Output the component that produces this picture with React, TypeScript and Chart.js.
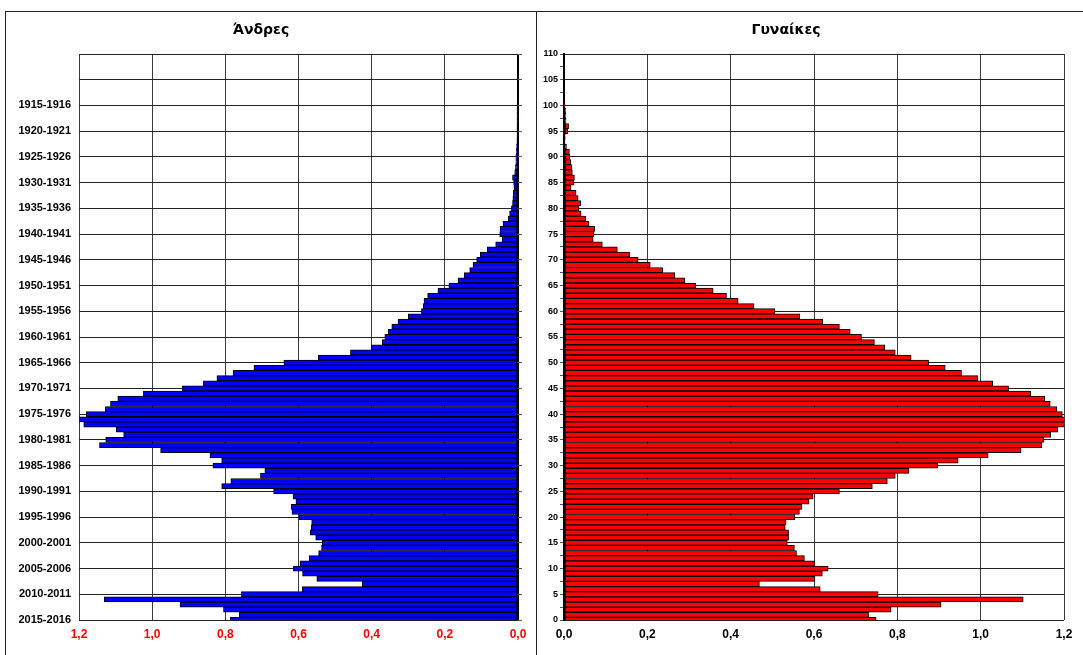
import React, { useEffect, useRef } from "react";
import { Chart, registerables } from "chart.js";

Chart.register(...registerables);

// Ages 0..110 (category positions of the bars)
const ages: number[] = Array.from({ length: 111 }, (_, i) => i);

// Men, % of population, by age 0..110
const men: number[] = [
  0.787, 0.762, 0.805, 0.924, 1.131, 0.756, 0.590, 0.426, 0.550, 0.589,
  0.614, 0.596, 0.571, 0.545, 0.537, 0.535, 0.553, 0.568, 0.565, 0.564,
  0.598, 0.618, 0.620, 0.607, 0.615, 0.668, 0.810, 0.785, 0.704, 0.692,
  0.834, 0.810, 0.842, 0.977, 1.144, 1.127, 1.078, 1.098, 1.187, 1.205,
  1.180, 1.128, 1.114, 1.094, 1.024, 0.918, 0.860, 0.823, 0.779, 0.722,
  0.640, 0.546, 0.458, 0.401, 0.371, 0.364, 0.355, 0.345, 0.328, 0.300,
  0.264, 0.259, 0.257, 0.247, 0.219, 0.189, 0.164, 0.147, 0.132, 0.123,
  0.113, 0.103, 0.084, 0.061, 0.043, 0.050, 0.049, 0.041, 0.027, 0.023,
  0.018, 0.015, 0.014, 0.013, 0.011, 0.012, 0.015, 0.009, 0.007, 0.006,
  0.006, 0.005, 0.004, 0.003, 0.002, 0.002, 0.002, 0.001, 0.001, 0.001,
  0.0005, 0, 0, 0, 0, 0, 0, 0, 0, 0, 0,
];

// Women, % of population, by age 0..110
const women: number[] = [
  0.749, 0.731, 0.785, 0.905, 1.102, 0.754, 0.615, 0.469, 0.602, 0.620,
  0.634, 0.601, 0.577, 0.558, 0.553, 0.536, 0.539, 0.539, 0.531, 0.533,
  0.554, 0.565, 0.571, 0.588, 0.598, 0.661, 0.740, 0.776, 0.795, 0.828,
  0.897, 0.946, 1.018, 1.097, 1.147, 1.152, 1.168, 1.185, 1.205, 1.205,
  1.196, 1.183, 1.167, 1.154, 1.120, 1.067, 1.029, 0.993, 0.954, 0.915,
  0.875, 0.833, 0.795, 0.770, 0.745, 0.714, 0.687, 0.661, 0.621, 0.566,
  0.506, 0.456, 0.418, 0.390, 0.358, 0.316, 0.290, 0.266, 0.237, 0.207,
  0.178, 0.158, 0.128, 0.092, 0.070, 0.072, 0.074, 0.060, 0.052, 0.041,
  0.036, 0.040, 0.034, 0.029, 0.017, 0.024, 0.025, 0.020, 0.019, 0.016,
  0.014, 0.013, 0.006, 0.002, 0.003, 0.009, 0.011, 0.005, 0.004, 0.004,
  0.001, 0, 0, 0, 0, 0, 0, 0, 0, 0, 0,
];

// Tick labels for the men panel (birth cohorts), one for each 5 years of age, from age 0 upward
const cohortTicks: string[] = [
  "2015-2016", "2010-2011", "2005-2006", "2000-2001", "1995-1996",
  "1990-1991", "1985-1986", "1980-1981", "1975-1976", "1970-1971",
  "1965-1966", "1960-1961", "1955-1956", "1950-1951", "1945-1946",
  "1940-1941", "1935-1936", "1930-1931", "1925-1926", "1920-1921",
  "1915-1916", "", "",
];

// Tick labels for the women panel (age), from 0 upward
const ageTicks: string[] = [
  "0", "5", "10", "15", "20", "25", "30", "35", "40", "45", "50", "55",
  "60", "65", "70", "75", "80", "85", "90", "95", "100", "105", "110",
];

const titleMen = "Άνδρες";
const titleWomen = "Γυναίκες";

const FONT = "'Liberation Sans', Arial, sans-serif";
const TITLE_FONT = "'DejaVu Sans', Verdana, sans-serif";

function fmt(v: number): string {
  return (Math.round(v * 10) / 10).toFixed(1).replace(".", ",");
}

function makeOptions(side: "left" | "right"): any {
  const isLeft = side === "left";
  const scales: any = {
    x: {
      type: "linear",
      min: 0,
      max: 1.2,
      reverse: isLeft,
      offset: false,
      ticks: {
        stepSize: 0.2,
        color: isLeft ? "#ff0000" : "#000000",
        font: { family: FONT, size: 12, weight: "bold" },
        padding: 7,
        maxRotation: 0,
        callback: (v: any) => fmt(Number(v)),
      },
      grid: {
        drawTicks: false,
        offset: false,
        color: (ctx: any) => (ctx.tick && Math.abs(ctx.tick.value) < 1e-9 ? "#000" : "#3a3a3a"),
        lineWidth: (ctx: any) => (ctx.tick && Math.abs(ctx.tick.value) < 1e-9 ? 2 : 1),
      },
      border: { display: false },
      afterFit: (s: any) => {
        s.height = 35;
      },
    },
    y: {
      type: "linear",
      position: "left",
      min: 0,
      max: 110,
      offset: false,
      ticks: {
        stepSize: isLeft ? 5 : 2.5,
        autoSkip: false,
        color: "#000",
        font: { family: FONT, size: isLeft ? 11 : 9, weight: "bold" },
        padding: isLeft ? 8 : 2,
        callback: (v: any) => {
          const n = Number(v);
          if (Math.abs(n % 5) > 1e-9) return "";
          const i = Math.round(n / 5);
          return isLeft ? cohortTicks[i] : ageTicks[i];
        },
      },
      grid: {
        offset: false,
        drawTicks: !isLeft,
        tickLength: 4,
        tickColor: "#555",
        color: (ctx: any) =>
          ctx.tick && Math.abs(ctx.tick.value % 5) < 1e-9 ? "#222" : "rgba(0,0,0,0)",
      },
      border: { display: !isLeft, color: "#000", width: 2 },
      afterFit: (s: any) => {
        s.width = isLeft ? 75 : 27;
      },
    },
  };
  if (isLeft) {
    // tick marks on the outer side of the zero axis
    scales.y2 = {
      type: "linear",
      position: "right",
      min: 0,
      max: 110,
      offset: false,
      ticks: { display: false, stepSize: 5 },
      grid: { drawOnChartArea: false, drawTicks: true, tickLength: 4, tickColor: "#555", offset: false },
      border: { display: false },
      afterFit: (s: any) => {
        s.width = 5;
      },
    };
  }
  return {
    indexAxis: "y",
    animation: false,
    responsive: false,
    maintainAspectRatio: false,
    events: [],
    layout: { padding: { top: 43, right: isLeft ? 13 : 19, left: 0, bottom: 0 } },
    plugins: { legend: { display: false }, tooltip: { enabled: false }, title: { display: false } },
    scales,
  };
}

function Panel(props: { side: "left" | "right"; left: number; width: number }) {
  const ref = useRef<HTMLCanvasElement | null>(null);
  useEffect(() => {
    if (!ref.current) return;
    const isLeft = props.side === "left";
    const vals = isLeft ? men : women;
    const chart = new Chart(ref.current, {
      type: "bar",
      data: {
        datasets: [
          {
            data: vals.map((v, i) => ({ x: v, y: ages[i] })),
            backgroundColor: isLeft ? "#0000ff" : "#ff0000",
            borderColor: "#000000",
            borderWidth: 1,
            borderSkipped: false,
            barPercentage: 1,
            categoryPercentage: 1,
          } as any,
        ],
      },
      options: makeOptions(props.side),
    });
    return () => chart.destroy();
  }, [props.side]);
  return (
    <canvas
      ref={ref}
      width={props.width}
      height={644}
      style={{ position: "absolute", left: props.left, top: 11, width: props.width, height: 644 }}
    />
  );
}

const titleStyle: React.CSSProperties = {
  position: "absolute",
  width: 200,
  top: 21,
  textAlign: "center",
  fontWeight: "bold",
  fontSize: 14,
  fontFamily: TITLE_FONT,
  color: "#000",
};

export default function App() {
  return (
    <div
      style={{
        position: "absolute",
        left: 0,
        top: 0,
        width: 1083,
        height: 655,
        overflow: "hidden",
        background: "#fff",
        fontFamily: FONT,
      }}
    >
      <div style={{ position: "absolute", left: 5, top: 11, width: 1078, height: 1, background: "#222" }} />
      <div style={{ position: "absolute", left: 5, top: 11, width: 1, height: 644, background: "#222" }} />
      <div style={{ position: "absolute", left: 536, top: 11, width: 1, height: 644, background: "#222" }} />
      <Panel side="left" left={4} width={532} />
      <Panel side="right" left={537} width={546} />
      <div style={{ ...titleStyle, left: 161 }}>{titleMen}</div>
      <div style={{ ...titleStyle, left: 686 }}>{titleWomen}</div>
    </div>
  );
}
